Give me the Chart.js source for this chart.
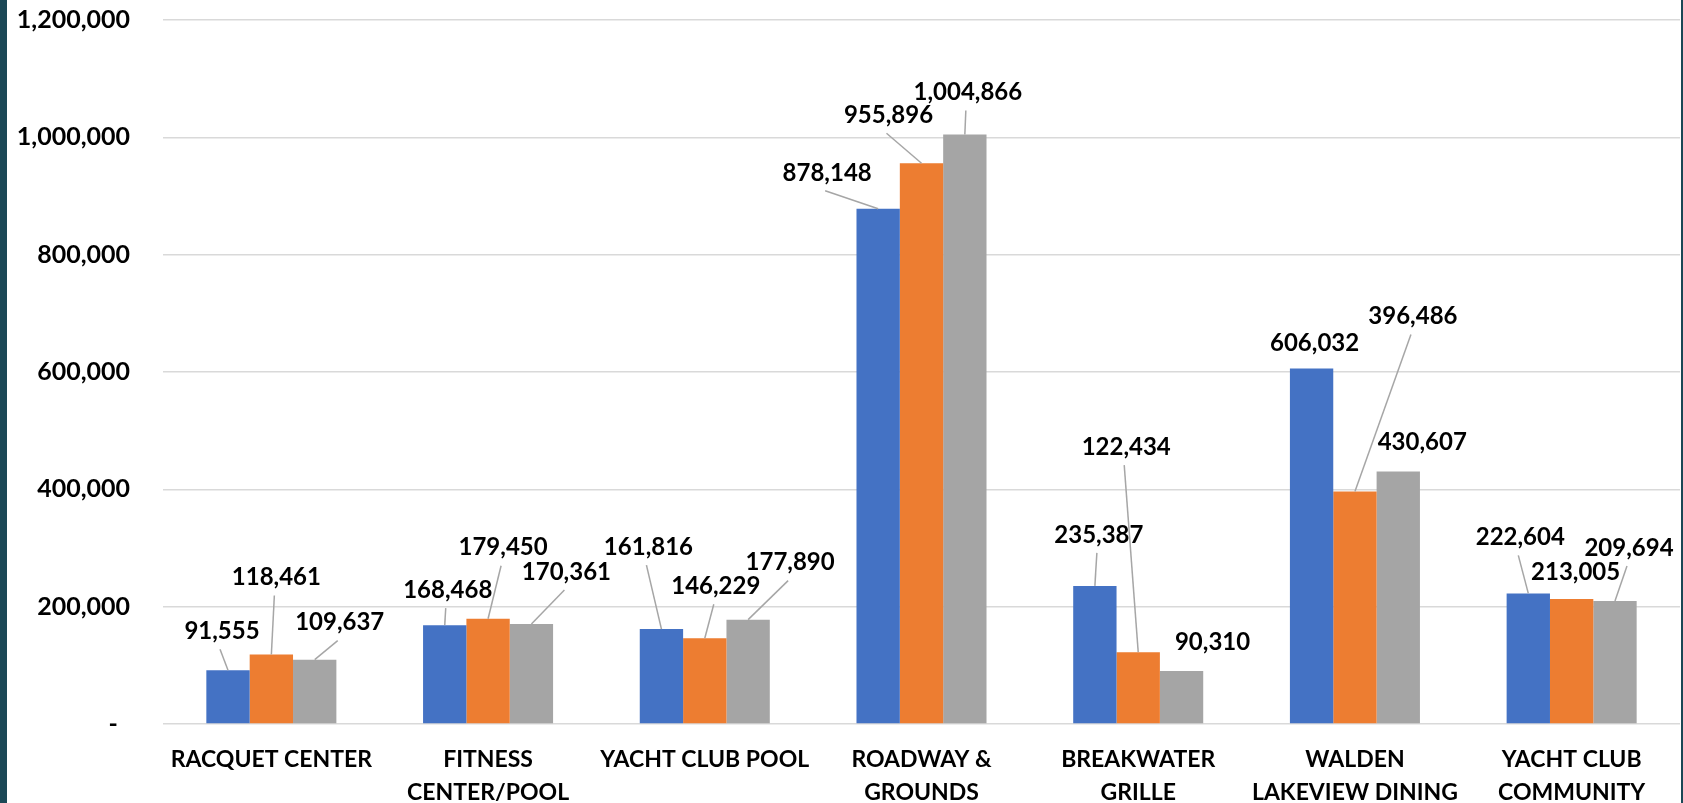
<!DOCTYPE html>
<html>
<head>
<meta charset="utf-8">
<script src="https://cdn.jsdelivr.net/npm/chart.js@4"></script>
<style>
  html, body { margin: 0; padding: 0; background: #fff; }
  #wrap { width: 1683px; height: 803px; }
</style>
</head>
<body>
<div id="wrap"><canvas id="chart" width="1683" height="803"></canvas></div>
<script>
// categories and values
const categories = [
    'RACQUET CENTER',
    ['FITNESS', 'CENTER/POOL'],
    'YACHT CLUB POOL',
    ['ROADWAY &', 'GROUNDS'],
    ['BREAKWATER', 'GRILLE'],
    ['WALDEN', 'LAKEVIEW DINING'],
    ['YACHT CLUB', 'COMMUNITY']
];
const series1 = [91555, 168468, 161816, 878148, 235387, 606032, 222604];
const series2 = [118461, 179450, 146229, 955896, 122434, 396486, 213005];
const series3 = [109637, 170361, 177890, 1004866, 90310, 430607, 209694];
const yTicks = [0, 200000, 400000, 600000, 800000, 1000000, 1200000];

// where each value label sits, relative to the top of its bar (px)
const offsets1 = [[-6, -39], [3, -35], [-13, -82], [-51, -36], [4, -51], [3, -25], [-8, -56]];
const offsets2 = [[5, -77], [15, -71], [11, -52], [-33, -48], [-12, -205], [58, -175], [4, -27]];
const offsets3 = [[25, -37], [35, -52], [42, -57], [3, -42], [31, -29], [24, -29], [14, -53]];
const labelOffsets = [offsets1, offsets2, offsets3];

const FONT = 'Lato';
const fmt = v => v.toLocaleString('en-US');

// side strips + data labels with leader lines
const decorPlugin = {
    id: 'decor',
    beforeDraw(chart) {
        const ctx = chart.ctx;
        ctx.save();
        ctx.fillStyle = '#ffffff';
        ctx.fillRect(0, 0, chart.width, chart.height);
        ctx.fillStyle = '#1b4856';
        ctx.fillRect(0, 0, 7, chart.height);
        ctx.fillRect(chart.width - 2, 0, 2, chart.height);
        ctx.restore();
    },
    afterDatasetsDraw(chart) {
        const ctx = chart.ctx;
        ctx.save();
        ctx.font = 'bold 24px ' + FONT;
        ctx.textAlign = 'center';
        ctx.textBaseline = 'middle';
        chart.data.datasets.forEach((ds, di) => {
            const meta = chart.getDatasetMeta(di);
            meta.data.forEach((bar, i) => {
                const off = labelOffsets[di][i];
                const lx = bar.x + off[0];
                const ly = bar.y + off[1];
                const startY = ly + 18;
                if (bar.y - startY > 13) {
                    ctx.strokeStyle = '#a6a6a6';
                    ctx.lineWidth = 1.5;
                    ctx.beginPath();
                    ctx.moveTo(lx - 2, startY);
                    ctx.lineTo(bar.x, bar.y);
                    ctx.stroke();
                }
                ctx.fillStyle = '#000000';
                ctx.fillText(fmt(ds.data[i]), lx, ly);
            });
        });
        ctx.restore();
    }
};

const ctx = document.getElementById('chart').getContext('2d');
new Chart(ctx, {
    type: 'bar',
    data: {
        labels: categories,
        datasets: [
            { label: 'Series 1', data: series1, backgroundColor: '#4472c4' },
            { label: 'Series 2', data: series2, backgroundColor: '#ed7d31' },
            { label: 'Series 3', data: series3, backgroundColor: '#a5a5a5' }
        ]
    },
    options: {
        responsive: false,
        devicePixelRatio: 1,
        animation: false,
        layout: { padding: { top: 20, right: 3, bottom: 0, left: 0 } },
        datasets: { bar: { barPercentage: 1, categoryPercentage: 0.6 } },
        plugins: { legend: { display: false }, tooltip: { enabled: false } },
        scales: {
            x: {
                grid: { display: false },
                border: { display: false },
                ticks: {
                    font: { family: FONT, size: 23, weight: 'bold', lineHeight: 1.45 },
                    color: '#000000',
                    padding: 11,
                    maxRotation: 0,
                    autoSkip: false
                },
                afterFit: s => { s.height = 79; }
            },
            y: {
                min: 0,
                max: 1200000,
                afterBuildTicks: s => { s.ticks = yTicks.map(v => ({ value: v })); },
                grid: { color: '#d9d9d9', lineWidth: 1.5, drawTicks: false },
                border: { display: false },
                ticks: {
                    font: { family: FONT, size: 25, weight: 'bold' },
                    color: '#000000',
                    padding: 33,
                    callback: v => v === 0 ? '-  ' : fmt(v)
                },
                // tick padding also pads the top of the plot, drop that
                afterFit: s => { s.width = 163; s.paddingTop = 0; s.paddingBottom = 0; }
            }
        }
    },
    plugins: [decorPlugin]
});
</script>
</body>
</html>
